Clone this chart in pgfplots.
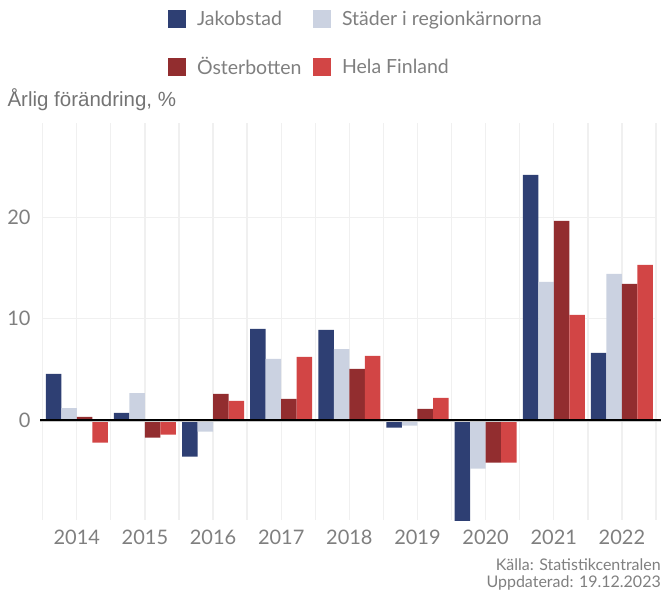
\documentclass[border=0pt]{standalone}
\usepackage{pgfplots}
\pgfplotsset{compat=1.18}
\usepackage{fontspec}
\setmainfont{Lato}
\newfontfamily\titlefont{Liberation Sans}
\definecolor{jak}{HTML}{2E3F73}
\definecolor{stad}{HTML}{CBD2E1}
\definecolor{ost}{HTML}{922D2F}
\definecolor{hela}{HTML}{D24545}
\definecolor{txt}{HTML}{7F7F7F}
\definecolor{ttl}{HTML}{747474}
\definecolor{gridc}{HTML}{F0F0F0}
\begin{document}
\begin{tikzpicture}[x=1pt,y=1pt]
\useasboundingbox (0,0) rectangle (661,590);
\begin{axis}[
  at={(42.7pt,70pt)}, anchor=south west,
  width=613.3pt, height=397pt, scale only axis,
  xmin=-0.5, xmax=8.5, ymin=-9.87, ymax=29.3,
  ybar=0pt, bar width=0.2276,
  axis line style={draw=none},
  major tick length=0pt, minor tick length=0pt,
  xtick={0,...,8},
  xticklabels={2014,2015,2016,2017,2018,2019,2020,2021,2022},
  minor xtick={-0.5,0.5,1.5,2.5,3.5,4.5,5.5,6.5,7.5,8.5},
  xmajorgrids, xminorgrids,
  ytick={0,10,20}, ymajorgrids,
  major grid style={color=gridc, line width=1.3pt},
  minor grid style={color=gridc, line width=1.3pt},
  /pgf/number format/assume math mode=true,
  ticklabel style={font=\fontsize{20}{24}\selectfont, text=txt},
  xticklabel style={inner sep=0pt, yshift=-10pt, anchor=north},
  yticklabel style={inner sep=0pt, xshift=-12pt, anchor=east},
  legend columns=2,
  legend cell align=left,
  legend image code/.code={\fill[#1] (0pt,-9pt) rectangle (18pt,9pt);},
  legend style={draw=none, fill=none, inner sep=0pt,
    at={(axis description cs:0.2032,1.2846)}, anchor=north west,
    font=\fontsize{19.5}{22}\selectfont, text=txt,
    nodes={inner sep=0pt},
    /tikz/every odd column/.append style={column sep=11.5pt},
    /tikz/every even column/.append style={column sep=11pt},
    row sep=29pt},
]
\addplot[draw=none, fill=jak] coordinates {(0,4.54) (1,0.69) (2,-3.62) (3,8.98) (4,8.88) (5,-0.76) (6,-10.5) (7,24.18) (8,6.61)};
\addplot[draw=none, fill=stad] coordinates {(0,1.18) (1,2.66) (2,-1.15) (3,6.02) (4,7.0) (5,-0.56) (6,-4.8) (7,13.62) (8,14.41)};
\addplot[draw=none, fill=ost] coordinates {(0,0.3) (1,-1.74) (2,2.57) (3,2.07) (4,5.03) (5,1.09) (6,-4.21) (7,19.64) (8,13.42)};
\addplot[draw=none, fill=hela] coordinates {(0,-2.24) (1,-1.45) (2,1.88) (3,6.22) (4,6.32) (5,2.17) (6,-4.21) (7,10.36) (8,15.3)};
\legend{Jakobstad, Städer i regionkärnorna, Österbotten, Hela Finland}
\end{axis}
\draw[black!22, line width=1.2pt] (40,168.6) -- (661,168.6);
\draw[black, line width=1.4pt] (40,170) -- (661,170);
\node[anchor=base west, inner sep=0pt, text=ttl, font=\titlefont\fontsize{20.5}{24}\selectfont] at (7.3,483.3) {Årlig förändring, \%};
\node[anchor=base east, inner sep=0pt, text=txt, font=\fontsize{16}{19}\selectfont] at (661,19.3) {Källa: Statistikcentralen};
\node[anchor=base east, inner sep=0pt, text=txt, font=\fontsize{16}{19}\selectfont] at (661,2.7) {Uppdaterad: 19.12.2023};
\end{tikzpicture}
\end{document}
